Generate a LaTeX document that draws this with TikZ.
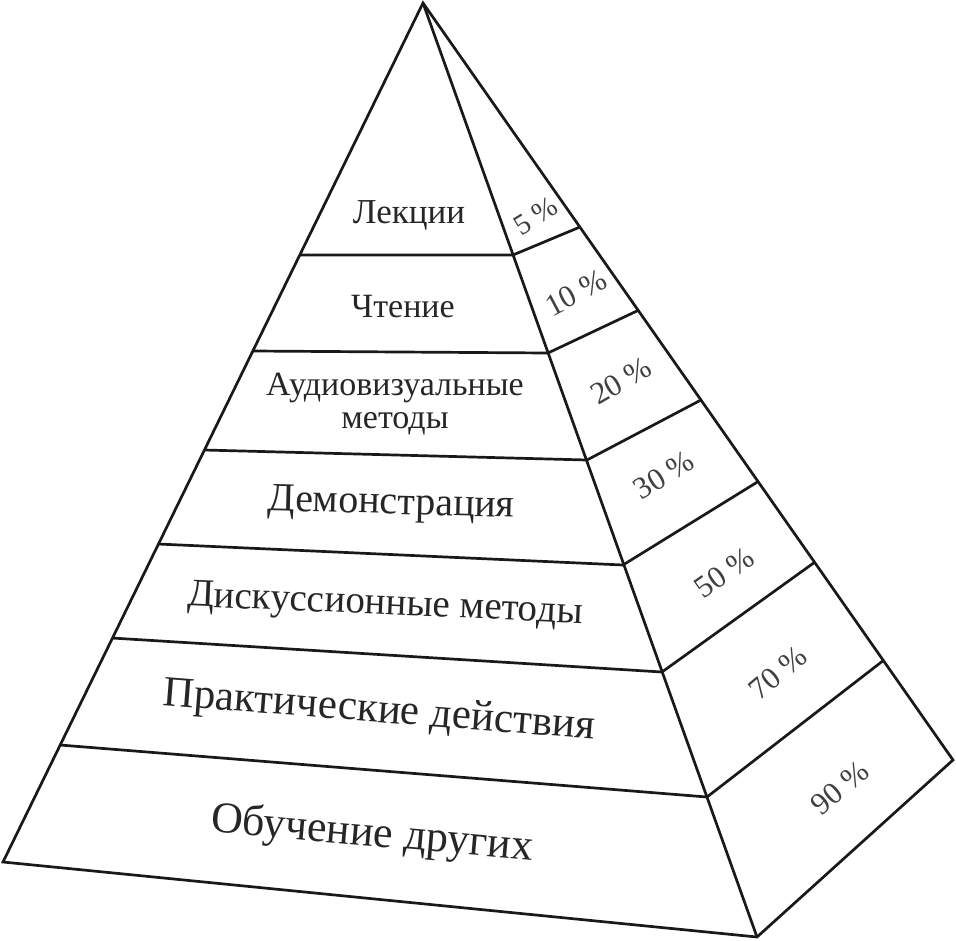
\documentclass[tikz,border=0pt]{standalone}
\usepackage{fontspec}
\setmainfont{Liberation Serif}
\begin{document}
\begin{tikzpicture}[x=1pt,y=-1pt,
  edge/.style={line width=2.7pt, line join=miter, draw=black!90},
  lvl/.style={inner sep=0pt, text=black!85},
  pct/.style={inner sep=0pt, font=\fontsize{31}{33}\selectfont, text=black!75}]
\useasboundingbox (0,0) rectangle (956,940);
\fill[white] (0,0) rectangle (956,940);
% apex
\coordinate (A) at (423,3);
% left edge points
\coordinate (L1) at (299,255);
\coordinate (L2) at (253,351);
\coordinate (L3) at (204,450);
\coordinate (L4) at (158,544);
\coordinate (L5) at (112,638);
\coordinate (L6) at (60,745);
\coordinate (L7) at (3,862);
% front-right edge points
\coordinate (F1) at (513,255);
\coordinate (F2) at (548,353);
\coordinate (F3) at (587,460);
\coordinate (F4) at (623,565);
\coordinate (F5) at (662,672);
\coordinate (F6) at (707,797);
\coordinate (F7) at (757,937);
% back-right edge points
\coordinate (B1) at (580,227);
\coordinate (B2) at (639,310);
\coordinate (B3) at (701,400);
\coordinate (B4) at (759,481);
\coordinate (B5) at (815,562);
\coordinate (B6) at (884,660);
\coordinate (B7) at (953,760);
% outline
\draw[edge] (A) -- (L7) -- (F7) -- (B7) -- cycle;
\draw[edge] (A) -- (F7);
\foreach \i in {1,...,6}{
  \draw[edge] (L\i) -- (F\i) -- (B\i);
}
% level labels
\node[lvl, font=\fontsize{35}{38}\selectfont] (t1) at (409,215) {Лекции};
\node[lvl, font=\fontsize{34}{37}\selectfont] (t2) at (403,307) {Чтение};
\node[lvl, font=\fontsize{34}{33}\selectfont, align=center] (t3) at (395,404) {Аудиовизуальные\\методы};
\node[lvl, font=\fontsize{40}{44}\selectfont, rotate=-1.5] (t4) at (391,505) {Демонстрация};
\node[lvl, font=\fontsize{39}{43}\selectfont, rotate=-2.5] (t5) at (385,606) {Дискуссионные методы};
\node[lvl, font=\fontsize{43}{47}\selectfont, rotate=-4.5] (t6) at (379,712) {Практические действия};
\node[lvl, font=\fontsize{44}{48}\selectfont, rotate=-5] (t7) at (372,835) {Обучение других};
% percentage labels
\node[pct, rotate=32, font=\fontsize{29}{31}\selectfont] (p1) at (536,216) {5 \%};
\node[pct, rotate=28] (p2) at (576,293) {10 \%};
\node[pct, rotate=30] (p3) at (621,381) {20 \%};
\node[pct, rotate=32] (p4) at (664,475) {30 \%};
\node[pct, rotate=35] (p5) at (724,573) {50 \%};
\node[pct, rotate=40] (p6) at (778,673) {70 \%};
\node[pct, rotate=40] (p7) at (840,788) {90 \%};
\end{tikzpicture}
\end{document}
